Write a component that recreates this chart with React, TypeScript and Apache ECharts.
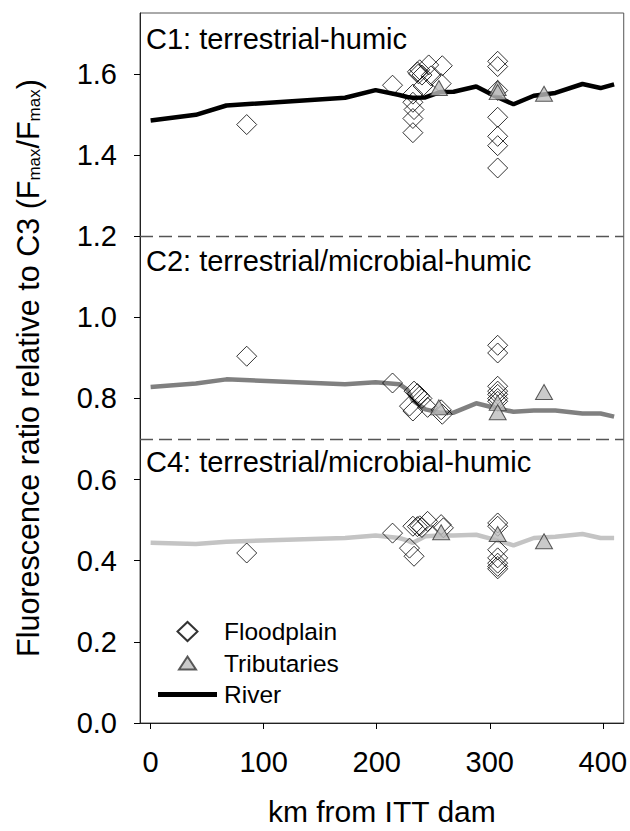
import { useEffect, useRef } from "react";
import * as echarts from "echarts";

const FONT = "'Liberation Sans', Arial, Helvetica, sans-serif";

// Axis ticks
const xTicks = [0, 100, 200, 300, 400];
const yTicks = [0, 0.2, 0.4, 0.6, 0.8, 1.0, 1.2, 1.4, 1.6];
const panelBreaks = [1.2, 0.7];
const panelLabels = [
  "C1: terrestrial-humic",
  "C2: terrestrial/microbial-humic",
  "C4: terrestrial/microbial-humic",
];

// River (main channel) profiles
const riverKm = [0, 40, 67, 172, 199, 220, 227, 232, 243, 256, 268, 288, 304, 321, 339, 358, 382, 398, 410];
const riverC1 = [1.485, 1.499, 1.522, 1.541, 1.560, 1.548, 1.543, 1.541, 1.542, 1.555, 1.556, 1.569, 1.546, 1.525, 1.546, 1.553, 1.575, 1.565, 1.574];
const riverC2 = [0.828, 0.837, 0.847, 0.835, 0.840, 0.835, 0.822, 0.795, 0.773, 0.765, 0.765, 0.788, 0.777, 0.767, 0.770, 0.770, 0.763, 0.763, 0.755];
const riverC4 = [0.444, 0.441, 0.447, 0.456, 0.462, 0.456, 0.450, 0.444, 0.460, 0.462, 0.462, 0.464, 0.452, 0.438, 0.456, 0.459, 0.466, 0.456, 0.456];

// Floodplain samples [km, ratio]
const floodplainC1 = [
  [85, 1.475], [214, 1.572], [232, 1.550], [232, 1.530], [233, 1.512], [232, 1.490], [232, 1.455],
  [236, 1.605], [237, 1.600], [238, 1.610], [240, 1.597], [241, 1.570], [246, 1.622], [248, 1.595],
  [257, 1.576], [258, 1.620], [307, 1.631], [307, 1.618], [307, 1.559], [307, 1.493], [307, 1.446],
  [307, 1.423], [307, 1.368],
];
const floodplainC2 = [
  [85, 0.904], [214, 0.838], [233, 0.818], [236, 0.812], [238, 0.806], [240, 0.800], [229, 0.781],
  [232, 0.769], [245, 0.778], [257, 0.772], [258, 0.761], [307, 0.931], [307, 0.912], [307, 0.830],
  [307, 0.818], [307, 0.810], [307, 0.800], [307, 0.793],
];
const floodplainC4 = [
  [85, 0.419], [214, 0.468], [232, 0.485], [236, 0.484], [238, 0.486], [240, 0.482], [245, 0.497],
  [257, 0.489], [259, 0.481], [229, 0.431], [233, 0.411], [307, 0.493], [307, 0.485], [307, 0.427],
  [307, 0.407], [307, 0.394], [307, 0.386], [307, 0.380],
];

// Tributary samples [km, ratio]
const tributariesC1 = [[255, 1.565], [307, 1.565], [307, 1.555], [348, 1.551]];
const tributariesC2 = [[255, 0.778], [307, 0.789], [307, 0.766], [348, 0.816]];
const tributariesC4 = [[257, 0.470], [307, 0.466], [348, 0.448]];

const zip = (xs: number[], ys: number[]) => xs.map((x, i) => [x, ys[i]]);

export default function App() {
  const ref = useRef<HTMLDivElement>(null);

  useEffect(() => {
    const chart = echarts.init(ref.current!, null, { renderer: "svg" });
    const lineSeries = (name: string, data: number[], color: string) => ({
      name,
      type: "line",
      data: zip(riverKm, data),
      symbol: "none",
      showSymbol: false,
      lineStyle: { color, width: 4.5 },
      itemStyle: { color },
      z: 2,
    });

    chart.setOption({
      animation: false,
      textStyle: { fontFamily: FONT },
      grid: {
        left: 140,
        top: 13,
        right: 5,
        bottom: 107,
        show: true,
        borderColor: "#555",
        borderWidth: 1,
        backgroundColor: "transparent",
      },
      xAxis: {
        type: "value",
        min: -9.4,
        max: 418.5,
        splitLine: { show: false },
        axisLine: { show: true, onZero: false, lineStyle: { color: "#222", width: 1 } },
        axisTick: { show: true, inside: false, length: 6, customValues: xTicks, lineStyle: { color: "#000" } },
        axisLabel: {
          customValues: xTicks,
          fontSize: 29,
          color: "#000",
          margin: 24,
          fontFamily: FONT,
        },
        name: "km from ITT dam",
        nameLocation: "middle",
        nameGap: 73,
        nameTextStyle: { fontSize: 30, color: "#000", fontFamily: FONT },
      },
      yAxis: {
        type: "value",
        min: 0,
        max: 1.75,
        splitLine: { show: false },
        axisLine: { show: true, onZero: false, lineStyle: { color: "#222", width: 1 } },
        axisTick: { show: true, inside: false, length: 6, customValues: yTicks, lineStyle: { color: "#000" } },
        axisLabel: {
          customValues: yTicks,
          formatter: (v: number) => v.toFixed(1),
          fontSize: 29,
          color: "#000",
          margin: 23,
          fontFamily: FONT,
        },
        name: "Fluorescence ratio relative to C3 (F{s|max}/F{s|max})",
        nameLocation: "middle",
        nameGap: 97,
        nameTextStyle: {
          fontSize: 30.5,
          color: "#000",
          fontFamily: FONT,
          rich: {
            s: { fontSize: 17, lineHeight: 10, verticalAlign: "bottom", color: "#000", fontFamily: FONT },
          },
        },
      },
      legend: {
        orient: "vertical",
        left: 152,
        top: 614,
        itemWidth: 59,
        itemHeight: 19,
        itemGap: 6.5,
        data: [
          { name: "Floodplain", icon: "path://M0,0M19.5,9.5L29.5,0L39.5,9.5L29.5,19ZM59,19" },
          { name: "Tributaries", icon: "path://M0,0M21,16L29.5,3L38,16ZM59,19" },
          { name: "River", icon: "path://M0,0M0,7L59,7L59,12L0,12ZM59,19" },
        ],
        selectedMode: false,
        textStyle: { fontSize: 24.5, color: "#000", fontFamily: FONT, padding: [0, 0, 0, 2] },
      },
      graphic: panelLabels.map((t, i) => ({
        type: "text",
        left: 146,
        top: [24, 246, 447][i],
        style: { text: t, fontSize: 29, fill: "#000", fontFamily: FONT },
        silent: true,
      })),
      series: [
        lineSeries("River", riverC1, "#000000"),
        lineSeries("River C2", riverC2, "#808080"),
        lineSeries("River C4", riverC4, "#c4c4c4"),
        {
          name: "Floodplain",
          type: "scatter",
          symbol: "diamond",
          symbolSize: 20,
          data: [...floodplainC1, ...floodplainC2, ...floodplainC4],
          itemStyle: { color: "rgba(255,255,255,0)", borderColor: "#000", borderWidth: 1 },
          z: 3,
          markLine: {
            silent: true,
            symbol: ["none", "none"],
            label: { show: false },
            lineStyle: { color: "#555", type: [13, 6], width: 1.3 },
            data: panelBreaks.map((v) => ({ yAxis: v })),
          },
        },
        {
          name: "Tributaries",
          type: "scatter",
          symbol: "triangle",
          symbolSize: [17, 15],
          data: [...tributariesC1, ...tributariesC2, ...tributariesC4],
          itemStyle: { color: "#bdbdbd", borderColor: "#333", borderWidth: 1 },
          z: 4,
        },
      ],
    });
    return () => chart.dispose();
  }, []);

  return (
    <div
      ref={ref}
      style={{ position: "absolute", left: 0, top: 0, width: 630, height: 831 }}
    />
  );
}
